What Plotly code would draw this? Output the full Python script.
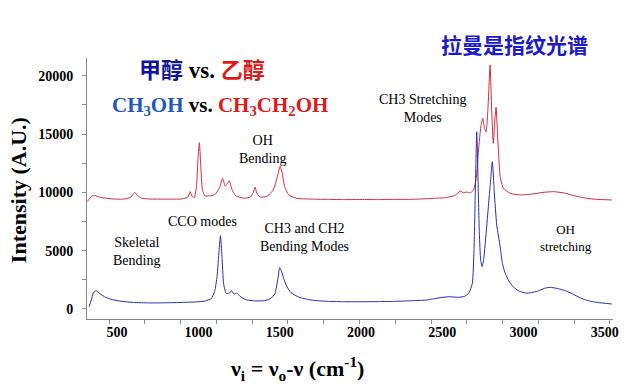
import plotly.graph_objects as go

# Methanol (blue) spectrum points
meoh_x = [328, 340, 355, 371, 395, 430, 470, 530, 600, 700, 800, 900, 980, 1040, 1080, 1100,
          1115, 1127, 1136, 1145, 1155, 1170, 1190, 1203, 1218, 1238, 1255, 1290, 1340, 1400,
          1440, 1470, 1488, 1500, 1512, 1525, 1545, 1570, 1620, 1700, 1800, 1900, 2000, 2100,
          2200, 2300, 2400, 2480, 2540, 2600, 2640, 2665, 2685, 2695, 2703, 2712, 2720, 2728,
          2736, 2745, 2755, 2773, 2794, 2808, 2820, 2835, 2856, 2870, 2886, 2910, 2936, 2970,
          3020, 3080, 3130, 3163, 3210, 3260, 3300, 3350, 3400, 3460, 3542]
meoh_y = [200, 700, 1400, 1570, 1300, 1000, 800, 650, 560, 520, 530, 560, 600, 680, 900, 1500,
          2800, 5000, 6290, 4500, 2200, 1350, 1350, 1570, 1300, 1350, 1100, 800, 700, 700,
          850, 1300, 2500, 3540, 3200, 2600, 1900, 1400, 1000, 750, 650, 620, 620, 630,
          650, 700, 760, 950, 1050, 1000, 1100, 1400, 2200, 5000, 10000, 15200, 11000, 6500,
          4200, 3630, 4300, 7060, 10490, 12630, 10000, 7200, 5340, 3900, 3090, 2400, 1910, 1550,
          1350, 1500, 1780, 1860, 1750, 1550, 1300, 950, 700, 550, 430]

# Ethanol (red) spectrum points
etoh_x = [316, 330, 345, 365, 390, 430, 480, 540, 580, 600, 611, 625, 650, 700, 800, 900, 935,
          949, 960, 975, 988, 998, 1006, 1014, 1025, 1040, 1070, 1100, 1130, 1149, 1165, 1175,
          1190, 1205, 1230, 1280, 1320, 1337, 1349, 1360, 1380, 1420, 1460, 1485, 1503, 1515,
          1530, 1555, 1600, 1700, 1800, 1900, 2000, 2100, 2200, 2300, 2400, 2446, 2520, 2580,
          2610, 2630, 2651, 2670, 2692, 2710, 2723, 2737, 2749, 2760, 2770, 2782, 2794, 2804,
          2814, 2822, 2831, 2838, 2845, 2856, 2876, 2917, 2978, 3050, 3120, 3184, 3250, 3300,
          3389, 3450, 3542]
etoh_y = [9200, 9450, 9700, 9720, 9600, 9500, 9430, 9420, 9550, 9850, 10000, 9750, 9500, 9430,
          9420, 9440, 9600, 10060, 9700, 9550, 10500, 13000, 14260, 12500, 10200, 9700, 9700,
          9800, 10400, 11210, 10550, 10700, 11000, 10300, 9700, 9500, 9600, 10000, 10440, 9900,
          9600, 9650, 10200, 11300, 12260, 11700, 10500, 9800, 9500, 9420, 9400, 9380, 9390,
          9380, 9400, 9400, 9450, 9490, 9550, 9750, 10120, 9980, 10030, 9950, 10200, 11300,
          13640, 15630, 16350, 15500, 15200, 17500, 20930, 17000, 14210, 16000, 17300, 15500,
          13640, 11350, 10350, 9920, 9780, 9850, 10000, 10060, 9950, 9750, 9490, 9400, 9350]

x_tickvals = [500, 1000, 1500, 2000, 2500, 3000, 3500]
y_tickvals = [0, 5000, 10000, 15000, 20000]

BLUE = "#2b2bb0"
RED = "#cf2d3a"
SERIF = "Liberation Serif"

fig = go.Figure()
fig.add_trace(go.Scatter(x=etoh_x, y=etoh_y, mode="lines",
                         line=dict(color=RED, width=1, shape="spline", smoothing=0.5),
                         showlegend=False))
fig.add_trace(go.Scatter(x=meoh_x, y=meoh_y, mode="lines",
                         line=dict(color=BLUE, width=1, shape="spline", smoothing=0.5),
                         showlegend=False))

fig.update_layout(
    width=636, height=388,
    margin=dict(l=87, r=23, t=58, b=69),
    paper_bgcolor="white", plot_bgcolor="white",
    font=dict(family=SERIF, color="black"),
    xaxis=dict(range=[315, 3550], tickvals=x_tickvals, ticktext=[str(v) for v in x_tickvals],
               showgrid=False, zeroline=False, showline=True, linecolor="#888888", linewidth=1,
               ticks="", tickfont=dict(family=SERIF, size=14, color="black", weight="bold"),
               minor=dict(tick0=451, dtick=220, ticks="outside", ticklen=4, tickcolor="#888888")),
    yaxis=dict(range=[-860, 21525], tickvals=y_tickvals, ticktext=[str(v) for v in y_tickvals],
               showgrid=False, zeroline=False, showline=True, linecolor="#888888", linewidth=1,
               ticks="outside", ticklen=4, tickcolor="#888888", ticklabelstandoff=6,
               tickfont=dict(family=SERIF, size=14, color="black", weight="bold"),
               minor=dict(dtick=2500, ticks="outside", ticklen=4, tickcolor="#888888")),
)

def note(text, x, y, size=14, family=SERIF, color="black", angle=0):
    fig.add_annotation(text=text, x=x, y=y, xref="paper", yref="paper", showarrow=False,
                       xanchor="center", yanchor="middle", textangle=angle,
                       font=dict(family=family, size=size, color=color))

CJK = "Noto Sans CJK SC"
note("<b><span style='color:#1212a0'>甲醇</span>"
     "<span style='font-family:Liberation Serif;font-size:23px'> vs. </span>"
     "<span style='color:#e01818'>乙醇</span></b>", 0.219, 0.962, size=22, family=CJK)
note("<b><span style='color:#2058c0'>CH<sub>3</sub>OH</span> vs. "
     "<span style='color:#e01818'>CH<sub>3</sub>CH<sub>2</sub>OH</span></b>",
     0.253, 0.816, size=21)
note("<b>拉曼是指纹光谱</b>", 0.812, 1.054, size=21, family=CJK, color="#1a1ac8")
note("CH3 Stretching<br>Modes", 0.639, 0.805)
note("OH<br>Bending", 0.333, 0.648)
note("CCO modes", 0.2205, 0.372)
note("CH3 and CH2<br>Bending Modes", 0.414, 0.314)
note("Skeletal<br>Bending", 0.095, 0.257)
note("OH<br>stretching", 0.911, 0.310, size=13)
note("<b>Intensity (A.U.)</b>", -0.131, 0.494, size=22, angle=-90)
note("<b>ν<sub>i</sub> = ν<sub>o</sub>-ν (cm<sup>-1</sup>)</b>", 0.399, -0.188, size=22)

fig.write_html("out.html", config={"displayModeBar": False},
               post_script="document.body.style.margin='0';document.body.style.overflow='hidden';")
